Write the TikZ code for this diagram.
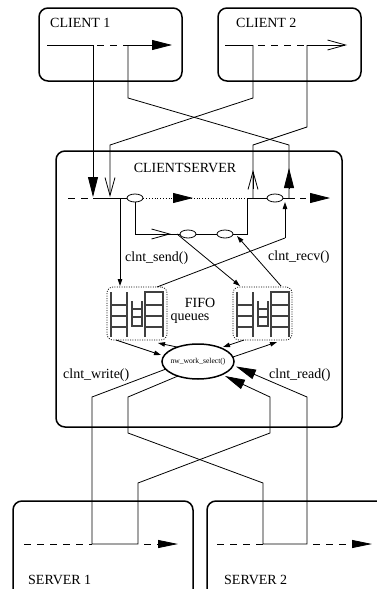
\documentclass[tikz,border=0pt]{standalone}
\usepackage{fontspec}
\setmainfont{Liberation Serif}
\usetikzlibrary{arrows.meta,shapes.geometric}
\begin{document}
\begin{tikzpicture}[x=1pt,y=-1pt,
  box/.style={draw,line width=1.5pt,rounded corners=9pt,inner sep=0pt},
  lbl/.style={font=\fontsize{14}{16}\selectfont,inner sep=0pt},
  wire/.style={line width=0.8pt},
  big/.style={-{Triangle[length=20pt,width=10pt]}},
  bigs/.style={-{Triangle[length=20pt,width=8pt]}},
  openv/.style={-{Straight Barb[length=18pt,width=10pt,line width=0.8pt]}},
  sm/.style={-{Triangle[length=7pt,width=4.5pt]}},
  dsh/.style={dash pattern=on 7pt off 6pt},
  sel/.style={draw,ellipse,minimum width=16pt,minimum height=8pt,inner sep=0pt,fill=white,line width=0.8pt},
  fifo/.style={draw,dash pattern=on 1pt off 1.4pt,rounded corners=6pt,line width=0.7pt,inner sep=0pt},
  lad/.style={line width=1.1pt,draw=black!75},
  ladders/.pic={
    \draw[lad] (4,5) -- (4,50) (20,5) -- (20,50)
      (4,18) -- (20,18) (4,29) -- (20,29) (4,40) -- (20,40);
    \draw[lad] (25,14) -- (25,40) (35,14) -- (35,40)
      (25,22) -- (35,22) (25,30) -- (35,30) (25,39) -- (35,39);
    \draw[lad] (38,50) -- (38,5) -- (56,5) -- (56,50)
      (38,18) -- (56,18) (38,29) -- (56,29) (38,40) -- (56,40);
  }
]
\useasboundingbox (0,0) rectangle (376,589);

% boxes
\node[box,minimum width=143pt,minimum height=73pt] (cl1) at (110.5,44.5) {};
\node[box,minimum width=143pt,minimum height=73pt] (cl2) at (289.5,44.5) {};
\node[box,minimum width=286pt,minimum height=276pt] (cs) at (199,289) {};
\node[box,minimum width=180pt,minimum height=110pt] (sv1) at (103,556) {};
\node[box,minimum width=190pt,minimum height=110pt] (sv2) at (302,556) {};

% labels
\node[lbl,anchor=west] (t1) at (50,23) {CLIENT 1};
\node[lbl,anchor=west] (t2) at (236,23) {CLIENT 2};
\node[lbl] (tcs) at (185,168) {CLIENTSERVER};
\node[lbl,anchor=west] (tsend) at (125,258) {clnt\_send()};
\node[lbl,anchor=west] (trecv) at (268,257) {clnt\_recv()};
\node[lbl] (tfifo) at (200,303) {FIFO};
\node[lbl] (tq) at (190,319) {queues};
\node[lbl,anchor=west] (twrite) at (63,375) {clnt\_write()};
\node[lbl,anchor=west] (tread) at (269,375) {clnt\_read()};
\node[lbl,anchor=west] (ts1) at (28,580) {SERVER 1};
\node[lbl,anchor=west] (ts2) at (224,580) {SERVER 2};

% client lines
\draw[wire] (47,45) -- (93,45);
\draw[wire,dsh] (97,45) -- (128,45);
\draw[wire,big] (128,45) -- (172,45);
\draw[wire] (225,45) -- (253,45);
\draw[wire,dsh] (258,45) -- (307,45);
\draw[wire,openv] (307,45) -- (347,45);

% client <-> clientserver wires
\draw[wire,big] (93,45) -- (93,197);
\draw[wire] (128,45) -- (128,98) -- (289,145) -- (289,198);
\draw[wire,big] (289,189) -- (289,168);
\draw[wire,openv] (253,45) -- (253,98) -- (110,145) -- (110,197);
\draw[wire] (307,45) -- (307,127) -- (253,145) -- (253,198);
\draw[wire,openv] (253,189) -- (253,170);

% clientserver main line
\node[sel] (e1) at (135,198) {};
\node[sel] (e2) at (275,198) {};
\node[sel] (e3) at (188,234) {};
\node[sel] (e4) at (225,234) {};
\draw[wire,dsh] (68,198) -- (93,198);
\draw[wire] (93,198) -- (e1.west);
\draw[wire,dotted] (e1.east) -- (247,198);
\draw[wire,big] (175,198) -- (193,198);
\draw[wire] (247,198) -- (e2.west);
\draw[wire] (e2.east) -- (295,198);
\draw[wire,dash pattern=on 6pt off 5pt,big] (300,198) -- (330,198);

% inner loop
\draw[wire] (e1.south) -- (135,234) -- (e3.west);
\draw[wire] (e3.east) -- (e4.west);
\draw[wire] (e4.east) -- (247,234) -- (247,198);
\draw[wire,openv] (150,234) -- (171,234);

% FIFO queues
\node[fifo,minimum width=60pt,minimum height=53pt] (fl) at (137,313.5) {};
\node[fifo,minimum width=59pt,minimum height=53pt] (fr) at (262.5,313.5) {};
\pic at (107,287) {ladders};
\pic at (233,287) {ladders};

% send / recv
\draw[wire,sm] (120,198) -- (120,286);
\draw[wire,sm] (177,234) -- (240,286);
\draw[wire,sm] (281,286) -- (237,236);
\draw[wire] (157,287) -- (285,238);
\draw[wire,sm] (285,238) -- (285,202);

% select ellipse
\node[draw,ellipse,line width=1.5pt,minimum width=72pt,minimum height=35pt,inner sep=0pt] (nw) at (198,361.5) {};
\node[font=\fontsize{7.6}{9}\selectfont,inner sep=0pt] (nwt) at (nw) {nw\_work\_select()};

\draw[wire,sm] (116,340) -- (161,355);
\draw[wire,sm] (177,347) -- (158,343);
\draw[wire,sm] (244,340) -- (223,347);
\draw[wire,sm] (233,357) -- (277,342);

% server wires
\draw[wire,big] (166,369) -- (92,397) -- (92,544) -- (138,544) -- (138,483) -- (270,433) -- (270,397) -- (225,376);
\draw[wire,big] (178,376) -- (128,397) -- (128,433) -- (263,483) -- (263,544) -- (307,544) -- (307,397) -- (236,366.5);

% server lines
\draw[wire,dsh] (24,544) -- (92,544);
\draw[wire,dash pattern=on 7pt off 6pt,bigs] (144,544) -- (178,544);
\draw[wire,dsh] (217,544) -- (263,544);
\draw[wire,dash pattern=on 7pt off 6pt,bigs] (313,544) -- (372,544);
\end{tikzpicture}
\end{document}
